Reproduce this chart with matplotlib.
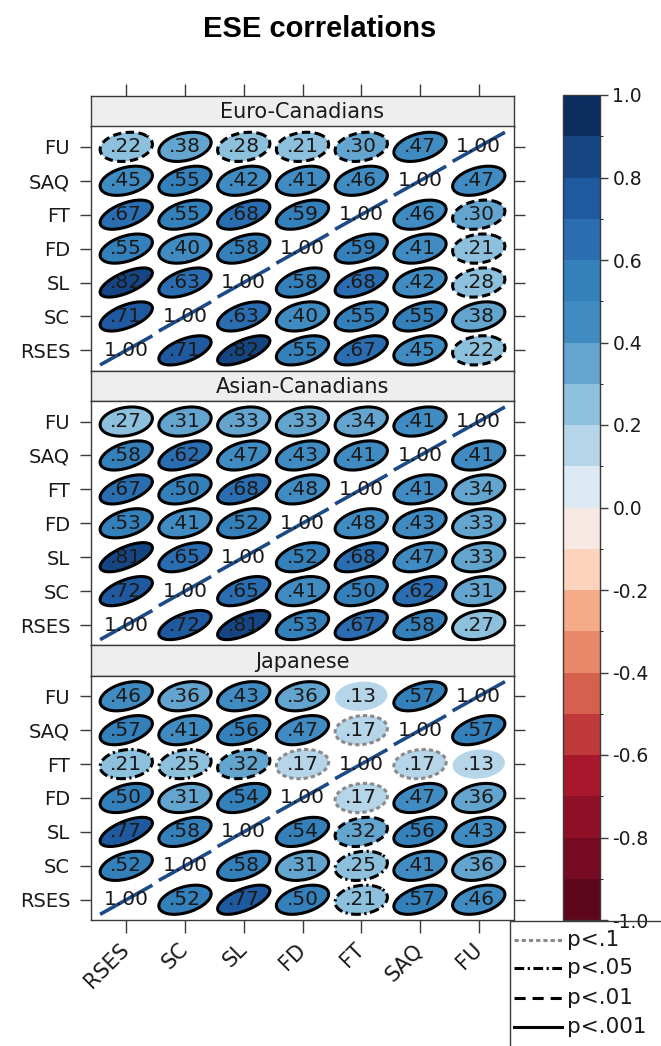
import numpy as np
import matplotlib
matplotlib.use("Agg")
import matplotlib.pyplot as plt
from matplotlib.patches import Polygon, Rectangle
from matplotlib.colors import ListedColormap, BoundaryNorm
import matplotlib.colorbar as mcolorbar
from matplotlib.lines import Line2D

plt.rcParams["lines.scale_dashes"] = False
plt.rcParams["font.family"] = ["DejaVu Sans"]

variables = ["RSES", "SC", "SL", "FD", "FT", "SAQ", "FU"]
groups = ["Euro-Canadians", "Asian-Canadians", "Japanese"]

# rows / columns in the order of `variables`
euro_corr = [
    [1.00, .71, .82, .55, .67, .45, .22],
    [.71, 1.00, .63, .40, .55, .55, .38],
    [.82, .63, 1.00, .58, .68, .42, .28],
    [.55, .40, .58, 1.00, .59, .41, .21],
    [.67, .55, .68, .59, 1.00, .46, .30],
    [.45, .55, .42, .41, .46, 1.00, .47],
    [.22, .38, .28, .21, .30, .47, 1.00],
]
asian_corr = [
    [1.00, .72, .81, .53, .67, .58, .27],
    [.72, 1.00, .65, .41, .50, .62, .31],
    [.81, .65, 1.00, .52, .68, .47, .33],
    [.53, .41, .52, 1.00, .48, .43, .33],
    [.67, .50, .68, .48, 1.00, .41, .34],
    [.58, .62, .47, .43, .41, 1.00, .41],
    [.27, .31, .33, .33, .34, .41, 1.00],
]
japan_corr = [
    [1.00, .52, .77, .50, .21, .57, .46],
    [.52, 1.00, .58, .31, .25, .41, .36],
    [.77, .58, 1.00, .54, .32, .56, .43],
    [.50, .31, .54, 1.00, .17, .47, .36],
    [.21, .25, .32, .17, 1.00, .17, .13],
    [.57, .41, .56, .47, .17, 1.00, .57],
    [.46, .36, .43, .36, .13, .57, 1.00],
]
# significance: '***' p<.001, '**' p<.01, '*' p<.05, '+' p<.1, 'ns'
euro_sig = [
    ["", "***", "***", "***", "***", "***", "**"],
    ["***", "", "***", "***", "***", "***", "***"],
    ["***", "***", "", "***", "***", "***", "**"],
    ["***", "***", "***", "", "***", "***", "**"],
    ["***", "***", "***", "***", "", "***", "**"],
    ["***", "***", "***", "***", "***", "", "***"],
    ["**", "***", "**", "**", "**", "***", ""],
]
asian_sig = [["" if i == j else "***" for j in range(7)] for i in range(7)]
japan_sig = [
    ["", "***", "***", "***", "*", "***", "***"],
    ["***", "", "***", "***", "*", "***", "***"],
    ["***", "***", "", "***", "**", "***", "***"],
    ["***", "***", "***", "", "+", "***", "***"],
    ["*", "*", "**", "+", "", "+", "ns"],
    ["***", "***", "***", "***", "+", "", "***"],
    ["***", "***", "***", "***", "ns", "***", ""],
]
corrs = [euro_corr, asian_corr, japan_corr]
sigs = [euro_sig, asian_sig, japan_sig]

cb_ticks = [-1.0, -0.8, -0.6, -0.4, -0.2, 0.0, 0.2, 0.4, 0.6, 0.8, 1.0]
legend_labels = ["p<.1", "p<.05", "p<.01", "p<.001"]

# 20 colour bins from -1 to 1
bin_colors = [
    "#5e061c", "#750a22", "#8f0f27", "#a8172b", "#c0393a",
    "#d5604d", "#e8896b", "#f5ab88", "#fcd3bd", "#f7e8e3",
    "#dde9f3", "#b6d5e9", "#8dc0dc", "#64a5cf", "#3f8bc2",
    "#3480bb", "#2a6db0", "#1f5aa0", "#154683", "#0a2d5e",
]
bounds = np.linspace(-1, 1, 21)

def bin_color(r):
    k = int(np.floor((r + 1) / 0.1 + 1e-9))
    return bin_colors[min(max(k, 0), 19)]

styles = {
    "***": dict(ls="-", ec="black"),
    "**": dict(ls=(0, (6, 3.2)), ec="black"),
    "*": dict(ls=(0, (7, 2.5, 1.6, 2.5)), ec="black"),
    "+": dict(ls=(0, (3, 2.2)), ec="#8a8a8a"),
}

W, H = 661, 1046
fig = plt.figure(figsize=(W / 100, H / 100), dpi=100)

def fx(px):
    return px / W

def fy(py):
    return 1 - py / H

left_px, right_px = 91, 514
top_px = 96
strip_h = 30.5
panel_h = 244.2
lim = (0.4, 7.6)
frame_col = "#3a3a3a"
txt_col = "#1a1a1a"
t = np.linspace(0, 2 * np.pi, 240)
sx, sy = 0.445, 0.43
shape_k = 0.8

for g, name in enumerate(groups):
    s_top = top_px + g * (strip_h + panel_h)
    p_top = s_top + strip_h
    p_bot = p_top + panel_h
    sax = fig.add_axes([fx(left_px), fy(p_top), fx(right_px - left_px), (p_top - s_top) / H])
    sax.set_facecolor("#eeeeee")
    sax.set_xlim(lim)
    sax.set_ylim(0, 1)
    sax.set_yticks([])
    sax.text(4.0, 0.46, name, ha="center", va="center", fontsize=15, color=txt_col)
    for sp in sax.spines.values():
        sp.set_color(frame_col)
        sp.set_linewidth(1.0)
    if g == 0:
        sax.set_xticks(range(1, 8))
        sax.tick_params(axis="x", top=True, bottom=False, labeltop=False, labelbottom=False,
                        length=9, width=1, color=frame_col, direction="out")
    else:
        sax.set_xticks([])

    ax = fig.add_axes([fx(left_px), fy(p_bot), fx(right_px - left_px), panel_h / H])
    ax.set_xlim(lim)
    ax.set_ylim(lim)
    for sp in ax.spines.values():
        sp.set_color(frame_col)
        sp.set_linewidth(1.0)
    ax.set_yticks(range(1, 8))
    ax.set_yticklabels(variables, fontsize=14, color=txt_col)
    ax.tick_params(axis="y", left=True, right=True, length=8, width=1, color=frame_col,
                   pad=7)
    ax.set_xticks(range(1, 8))
    if g == 2:
        ax.set_xticklabels(variables, fontsize=15, color=txt_col, rotation=45,
                           ha="right", va="center", rotation_mode="anchor")
        ax.tick_params(axis="x", bottom=True, top=False, length=9, width=1,
                       color=frame_col, pad=10)
    else:
        ax.tick_params(axis="x", bottom=False, top=False, labelbottom=False)

    M = corrs[g]
    S = sigs[g]
    for i in range(7):          # row -> y
        for j in range(7):      # column -> x
            r = M[i][j]
            cx, cy = j + 1, i + 1
            if i == j:
                ax.plot([cx - sx, cx + sx], [cy - sy, cy + sy], color="#1c4a86",
                        lw=2.6, solid_capstyle="butt", zorder=2)
                ax.text(cx, cy, "1.00", ha="center", va="center", fontsize=14.5,
                        color=txt_col, zorder=3)
                continue
            d = np.arccos(r * shape_k)
            xs = cx + sx * np.cos(t + d / 2)
            ys = cy + sy * np.cos(t - d / 2)
            sig = S[i][j]
            if sig in styles:
                st = styles[sig]
                poly = Polygon(np.column_stack([xs, ys]), closed=True,
                               facecolor=bin_color(r), edgecolor=st["ec"],
                               linestyle=st["ls"], linewidth=2.2, zorder=2)
            else:
                poly = Polygon(np.column_stack([xs, ys]), closed=True,
                               facecolor=bin_color(r), edgecolor="none", zorder=2)
            ax.add_patch(poly)
            ax.text(cx, cy, ("%.2f" % r).lstrip("0"), ha="center", va="center",
                    fontsize=14.5, color=txt_col, zorder=3)

# title
fig.text(fx(320), fy(29), "ESE correlations", ha="center", va="center",
         fontsize=21, fontweight="bold", family="Liberation Sans")

# colorbar
cax = fig.add_axes([fx(563), fy(920), fx(600 - 563), (920 - 95) / H])
cmap = ListedColormap(bin_colors)
norm = BoundaryNorm(bounds, cmap.N)
cb = mcolorbar.ColorbarBase(cax, cmap=cmap, norm=norm, ticks=cb_ticks,
                            orientation="vertical")
cb.ax.set_yticklabels(["%.1f" % v for v in cb_ticks], fontsize=13.5, color=txt_col)
cb.ax.tick_params(length=6, width=1, color=frame_col, pad=3)
cb.outline.set_edgecolor(frame_col)
cb.outline.set_linewidth(1.0)

# legend box
fig.add_artist(Rectangle((fx(510), fy(1100)), fx(300), (1100 - 921) / H,
                         transform=fig.transFigure, facecolor="none",
                         edgecolor=frame_col, linewidth=1.0, zorder=5))
leg_styles = [styles["+"], styles["*"], dict(ls=(0, (8, 5)), ec="black"), styles["***"]]
leg_y = [940, 968, 998, 1027]
for lab, st, yy in zip(legend_labels, leg_styles, leg_y):
    fig.add_artist(Line2D([fx(514), fx(562)], [fy(yy), fy(yy)], transform=fig.transFigure,
                          color=st["ec"], linestyle=st["ls"], linewidth=2.2, zorder=6))
    fig.text(fx(567), fy(yy), lab, ha="left", va="center", fontsize=15.5,
             color=txt_col, zorder=6)

fig.savefig("out.png", dpi=100)
